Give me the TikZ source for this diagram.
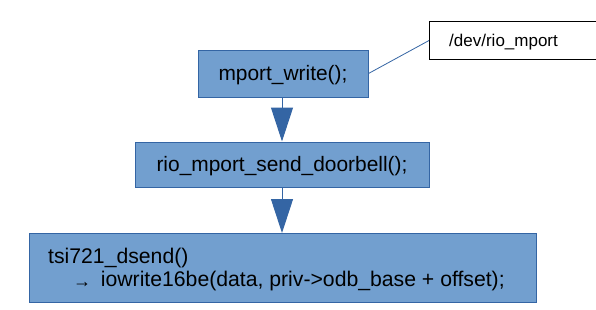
\documentclass[tikz,border=0pt]{standalone}
\usepackage{fontspec}
\setmainfont{Liberation Sans}
\usetikzlibrary{arrows.meta}
\definecolor{boxfill}{HTML}{729FCF}
\definecolor{boxline}{HTML}{3465A4}
\begin{document}
\begin{tikzpicture}[x=1pt,y=-1pt,
  fbox/.style={draw=boxline,fill=boxfill,line width=1pt,inner sep=0pt,
    font=\fontsize{20.9}{24}\selectfont,text height=16pt,text depth=1.6pt},
  ltext/.style={inner sep=0pt,anchor=base west,font=\fontsize{21.2}{23}\selectfont},
  flow/.style={draw=boxline,line width=1pt,-{Triangle[width=22pt,length=34pt]}},
  link/.style={draw=boxline,line width=0.8pt}]
\useasboundingbox (0,0) rectangle (596,309);
\fill[white] (0,0) rectangle (596,309);
\node[fbox,minimum width=170pt,minimum height=47pt] (mw) at (283,73.5) {mport\_write();};
\node[fbox,minimum width=294pt,minimum height=45pt] (sd) at (282,164.5) {rio\_mport\_send\_doorbell();};
\node[fbox,anchor=north west,minimum width=507pt,minimum height=68.5pt] (ts) at (29,233) {};
\node[ltext] (t1) at (48,263.7) {tsi721\_dsend()};
\node[ltext] (t2) at (73,286.7) {\makebox[0pt][l]{\smash{\raisebox{-1pt}{\fontsize{18}{18}\selectfont →}}}\hspace{27.7pt}iowrite16be(data, priv->odb\_base + offset);};
\node[draw=black,fill=white,line width=1pt,anchor=north west,minimum width=166.5pt,minimum height=38pt] (dev) at (429,21) {};
\node[inner sep=0pt,anchor=base west,font=\fontsize{17}{20}\selectfont] (devt) at (449,46) {/dev/rio\_mport};
\draw[link] (mw.east) -- (dev.west);
\draw[flow] (mw.south -| sd.north) -- (sd.north);
\draw[flow] (sd.south) -- (sd.south |- ts.north);
\end{tikzpicture}
\end{document}
